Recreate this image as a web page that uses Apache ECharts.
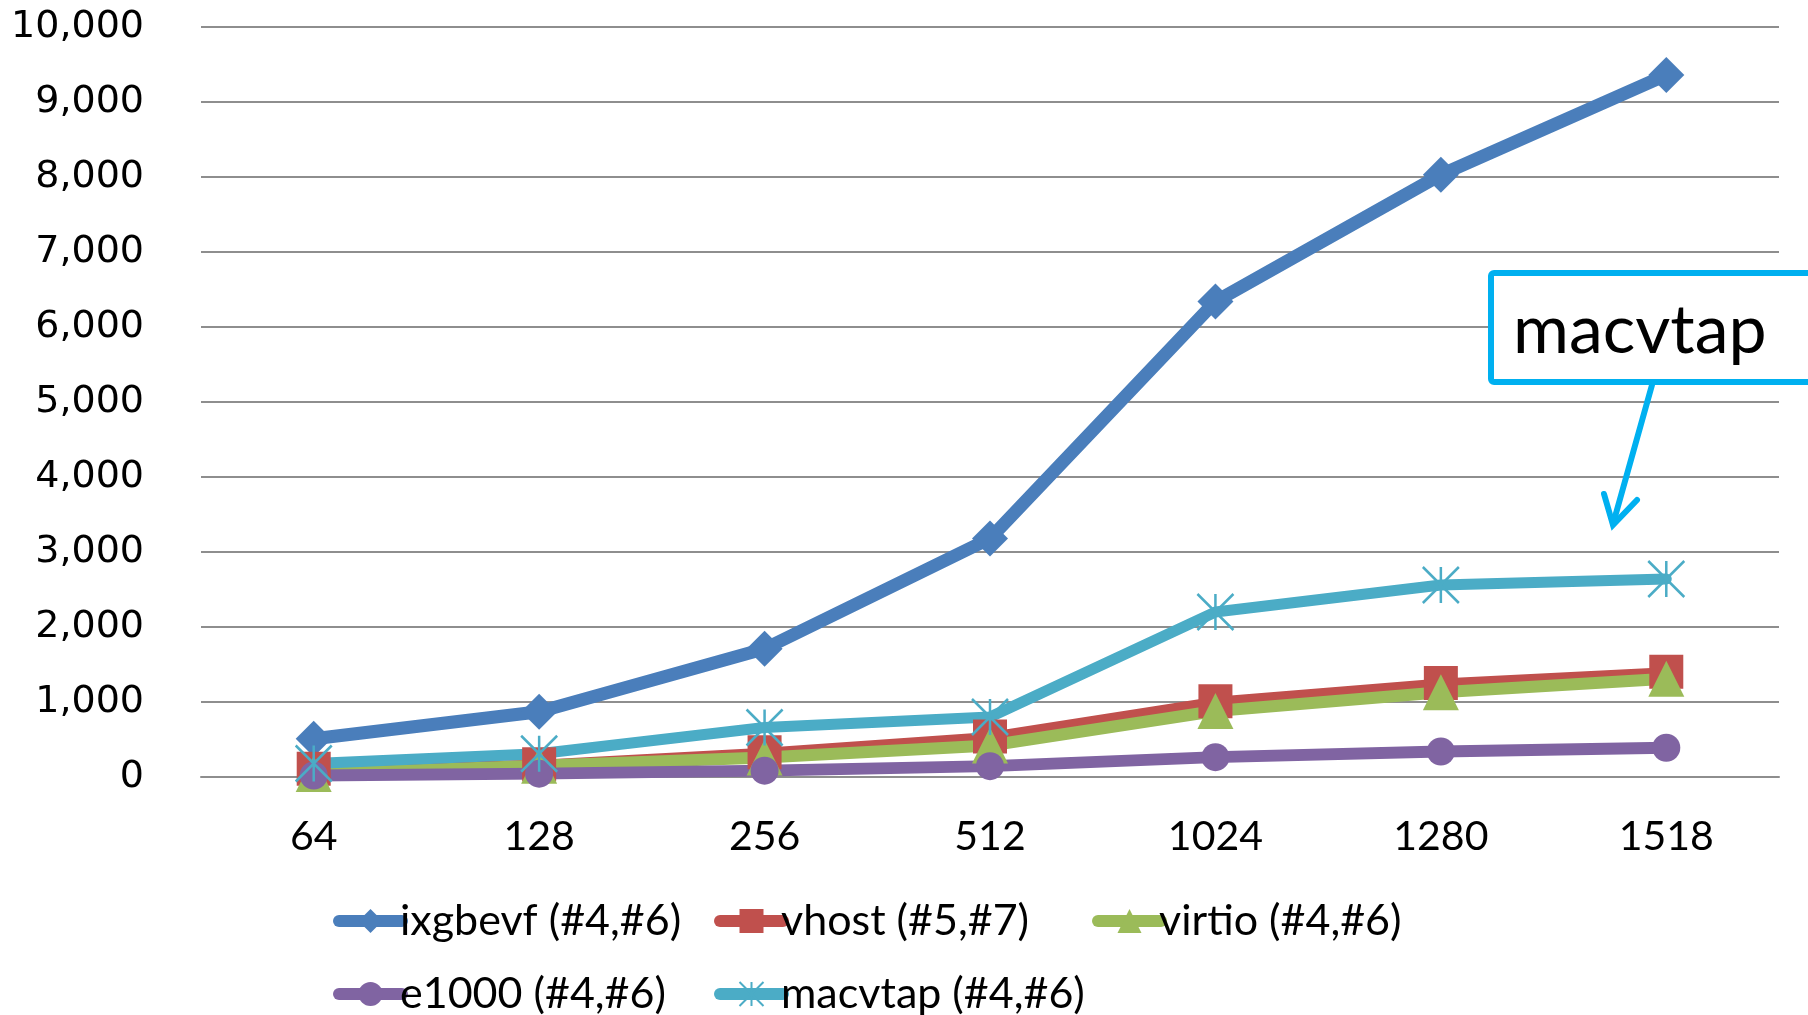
<!DOCTYPE html>
<html>
<head>
<meta charset="utf-8">
<script src="https://cdn.jsdelivr.net/npm/echarts@6/dist/echarts.min.js"></script>
<style>
  html, body { margin: 0; padding: 0; background: #ffffff; }
  #chart { width: 1808px; height: 1015px; }
</style>
</head>
<body>
<div id="chart"></div>
<script>
// Packet size categories (bytes)
const categories = ['64', '128', '256', '512', '1024', '1280', '1518'];

// Throughput per driver
const ixgbevf = [510, 870, 1710, 3180, 6340, 8030, 9360];
const vhost   = [110, 170, 330, 540, 1010, 1255, 1405];
const virtio  = [40, 150, 260, 420, 880, 1130, 1310];
const e1000   = [20, 45, 85, 145, 265, 340, 390];
const macvtap = [180, 310, 660, 800, 2200, 2560, 2640];

const seriesNames = ['ixgbevf (#4,#6)', 'vhost (#5,#7)', 'virtio (#4,#6)', 'e1000 (#4,#6)', 'macvtap (#4,#6)'];
const calloutText = 'macvtap';

const labelFont = 'Lato, "Open Sans", sans-serif';
const asterisk = 'path://M0,0L20,20M20,0L0,20M10,0L10,20';

const styles = [
  { color: '#4A7EBB', width: 13, symbol: 'diamond', size: 36 },
  { color: '#C0504D', width: 9, symbol: 'rect', size: 34 },
  { color: '#9BBB59', width: 12, symbol: 'triangle', size: 36 },
  { color: '#8064A2', width: 12, symbol: 'circle', size: 28 },
  { color: '#4BACC6', width: 11, symbol: asterisk, size: 36 }
];
const seriesData = [ixgbevf, vhost, virtio, e1000, macvtap];

function lineSeries(i) {
  const s = styles[i];
  const item = { color: s.color };
  if (s.symbol === asterisk) { item.borderColor = s.color; item.borderWidth = 2.5; }
  return {
    name: seriesNames[i],
    type: 'line',
    data: seriesData[i],
    symbol: s.symbol,
    symbolSize: s.size,
    showAllSymbol: true,
    lineStyle: { color: s.color, width: s.width, cap: 'round', join: 'round' },
    itemStyle: item,
    emphasis: { disabled: true },
    animation: false
  };
}

const chart = echarts.init(document.getElementById('chart'), null, { renderer: 'canvas' });

const legendSlots = [
  { left: 328, top: 894 }, { left: 709, top: 894 }, { left: 1087, top: 894 },
  { left: 328, top: 967 }, { left: 709, top: 967 }
];

chart.setOption({
  backgroundColor: '#ffffff',
  animation: false,
  grid: { left: 201, right: 29, top: 27, bottom: 238, containLabel: false },
  xAxis: {
    type: 'category',
    data: categories,
    boundaryGap: true,
    axisLine: { show: true, lineStyle: { color: '#8e8e8e', width: 2 } },
    axisTick: { show: false },
    axisLabel: { color: '#000', fontSize: 41, fontFamily: labelFont, margin: 40, lineHeight: 40 }
  },
  yAxis: {
    type: 'value',
    min: 0, max: 10000, interval: 1000,
    axisLine: { show: false },
    axisTick: { show: false },
    splitLine: { lineStyle: { color: '#8e8e8e', width: 2 } },
    axisLabel: {
      color: '#000', fontSize: 38, fontFamily: '"DejaVu Sans", sans-serif', margin: 57,
      formatter: v => v.toLocaleString('en-US')
    }
  },
  legend: seriesNames.map((n, i) => ({
    data: [n],
    left: legendSlots[i].left,
    top: legendSlots[i].top,
    itemWidth: 63,
    itemHeight: 30,
    selectedMode: false,
    lineStyle: { width: 12, cap: 'round' },
    textStyle: { color: '#000', fontSize: 43, fontFamily: labelFont, lineHeight: 44, padding: [0, 0, 0, -7] }
  })),
  series: styles.map((s, i) => lineSeries(i)),
  graphic: [
    {
      type: 'rect', z: 100,
      shape: { x: 1491, y: 273, width: 330, height: 109, r: 3 },
      style: { fill: '#ffffff', stroke: '#00B0F0', lineWidth: 6 }
    },
    {
      type: 'text', z: 101,
      style: { text: calloutText, x: 1513, y: 331, verticalAlign: 'middle', font: '68px Lato', fill: '#000' }
    },
    {
      type: 'polyline', z: 100,
      shape: { points: [[1652, 385], [1613, 524]] },
      style: { stroke: '#00B0F0', lineWidth: 6, fill: null, lineCap: 'round' }
    },
    {
      type: 'polyline', z: 100,
      shape: { points: [[1604, 494], [1613, 525], [1637, 500]] },
      style: { stroke: '#00B0F0', lineWidth: 6, fill: null, lineCap: 'round', lineJoin: 'miter' }
    }
  ]
});
</script>
</body>
</html>
